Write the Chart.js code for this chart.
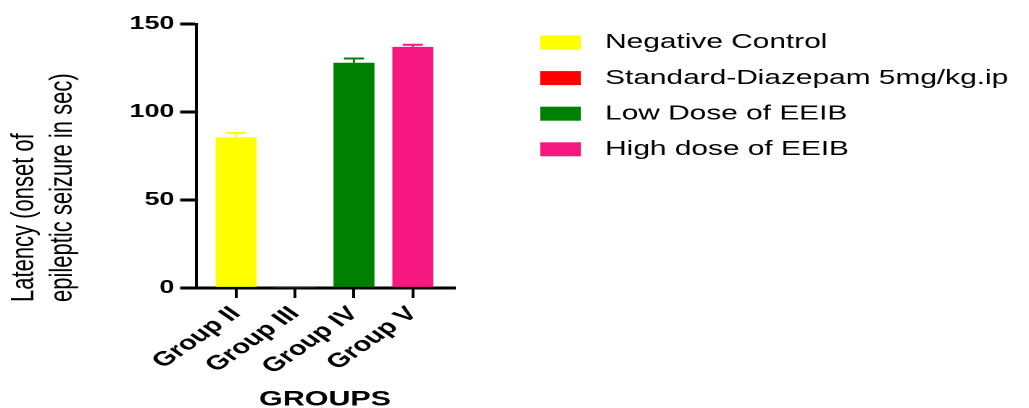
<!DOCTYPE html>
<html>
<head>
<meta charset="utf-8">
<title>Latency to seizure onset by group</title>
<script src="https://cdn.jsdelivr.net/npm/chart.js@4.4.1/dist/chart.umd.min.js"></script>
<style>
  html, body { margin: 0; padding: 0; background: #fff; overflow: hidden; }
  /* the figure is laid out on a 710px-wide canvas and widened to the full 1029px page */
  #figure {
    position: absolute; left: 0; top: 0;
    width: 710px; height: 408px;
    transform: scaleX(1.449296); transform-origin: 0 0;
  }
</style>
</head>
<body>
<div id="figure"><canvas id="chart"></canvas></div>
<script>
// Groups on the x axis
const categories = ['Group II', 'Group III', 'Group IV', 'Group V'];
// Treatment given to each group (legend entries)
const seriesNames = ['Negative Control', 'Standard-Diazepam 5mg/kg.ip', 'Low Dose of EEIB', 'High dose of EEIB'];
// Mean latency to onset of epileptic seizure (sec)
const latency = [85.4, 0, 127.8, 136.8];
// Standard error of the mean (sec)
const sem = [2.7, 0, 2.6, 1.4];
// Y axis tick values
const yTicks = [0, 50, 100, 150];

const barColors = ['#FFFF00', '#FF0000', '#008000', '#F61780'];

const FONT = '"Liberation Sans", Arial, Helvetica, sans-serif';

// Upward error bars (mean + SEM) with a cap, in the bar's colour
const errorBars = {
  id: 'errorBars',
  afterDatasetsDraw(chart) {
    const ctx = chart.ctx;
    const yScale = chart.scales.y;
    chart.data.datasets.forEach((ds, i) => {
      const meta = chart.getDatasetMeta(i);
      const el = meta.data[0];
      if (!el || !sem[i]) return;
      const top = yScale.getPixelForValue(latency[i] + sem[i]);
      ctx.save();
      ctx.strokeStyle = ds.backgroundColor;
      ctx.lineWidth = 1.4;
      ctx.beginPath();
      ctx.moveTo(el.x, el.y);
      ctx.lineTo(el.x, top);
      ctx.stroke();
      ctx.lineWidth = 2;
      ctx.beginPath();
      ctx.moveTo(el.x - 6.9, top);
      ctx.lineTo(el.x + 6.9, top);
      ctx.stroke();
      ctx.restore();
    });
  }
};

// Two-line y axis title, reading bottom to top
const yTitle = {
  id: 'yTitle',
  afterDraw(chart) {
    const ctx = chart.ctx;
    const lines = ['Latency (onset of', 'epileptic seizure in sec)'];
    const baselines = [23, 49.3];
    ctx.save();
    ctx.fillStyle = '#000';
    ctx.font = '22px ' + FONT;
    ctx.textAlign = 'left';
    ctx.textBaseline = 'alphabetic';
    lines.forEach((t, k) => {
      ctx.save();
      ctx.translate(baselines[k], 302);
      ctx.rotate(-Math.PI / 2);
      ctx.fillText(t, 0, 0);
      ctx.restore();
    });
    ctx.restore();
  }
};

// Legend to the right of the plot, one row per dataset
const sideLegend = {
  id: 'sideLegend',
  afterDraw(chart) {
    const ctx = chart.ctx;
    ctx.save();
    ctx.font = '20.6px ' + FONT;
    ctx.textAlign = 'left';
    ctx.textBaseline = 'middle';
    chart.data.datasets.forEach((ds, i) => {
      const cy = 42.5 + i * 35.6;
      ctx.fillStyle = ds.backgroundColor;
      ctx.fillRect(372.7, cy - 7, 28.2, 14);
      ctx.fillStyle = '#000';
      ctx.fillText(ds.label, 417.5, cy);
    });
    ctx.restore();
  }
};

const datasets = seriesNames.map((name, i) => ({
  label: name,
  data: [{ x: i, y: latency[i] }],
  backgroundColor: barColors[i],
  borderWidth: 0,
  barThickness: 27.6,
  grouped: false
}));

new Chart(document.getElementById('chart'), {
  type: 'bar',
  data: { datasets },
  plugins: [errorBars, yTitle, sideLegend],
  options: {
    responsive: true,
    maintainAspectRatio: false,
    devicePixelRatio: 2,
    animation: false,
    layout: { padding: { left: 0, top: 24, right: 396.7, bottom: 0 } },
    plugins: {
      legend: { display: false },
      tooltip: { enabled: false }
    },
    scales: {
      x: {
        type: 'linear',
        min: -0.68,
        max: 3.7,
        offset: false,
        afterBuildTicks: s => { s.ticks = categories.map((c, i) => ({ value: i })); },
        afterFit: s => { s.height = 120; },
        ticks: {
          callback: v => categories[v],
          autoSkip: false,
          minRotation: 45,
          maxRotation: 45,
          padding: 4,
          color: '#000',
          font: { family: FONT, size: 20, weight: 'bold' }
        },
        grid: {
          display: true,
          offset: false,
          drawOnChartArea: false,
          drawTicks: true,
          tickLength: 10,
          lineWidth: 2,
          color: '#000'
        },
        border: { display: true, width: 3, color: '#000' },
        title: {
          display: true,
          text: 'GROUPS',
          color: '#000',
          padding: 0,
          font: { family: FONT, size: 21, weight: 'bold', lineHeight: 0.8 }
        }
      },
      y: {
        min: 0,
        max: 150,
        afterBuildTicks: s => { s.ticks = yTicks.map(v => ({ value: v })); },
        afterFit: s => { s.width = 135.3; },
        ticks: {
          padding: 4,
          color: '#000',
          font: { family: FONT, size: 18.5, weight: 'bold' }
        },
        grid: {
          display: true,
          drawOnChartArea: false,
          drawTicks: true,
          tickLength: 11,
          lineWidth: 3,
          color: '#000'
        },
        border: { display: true, width: 2, color: '#000' }
      }
    }
  }
});
</script>
</body>
</html>
